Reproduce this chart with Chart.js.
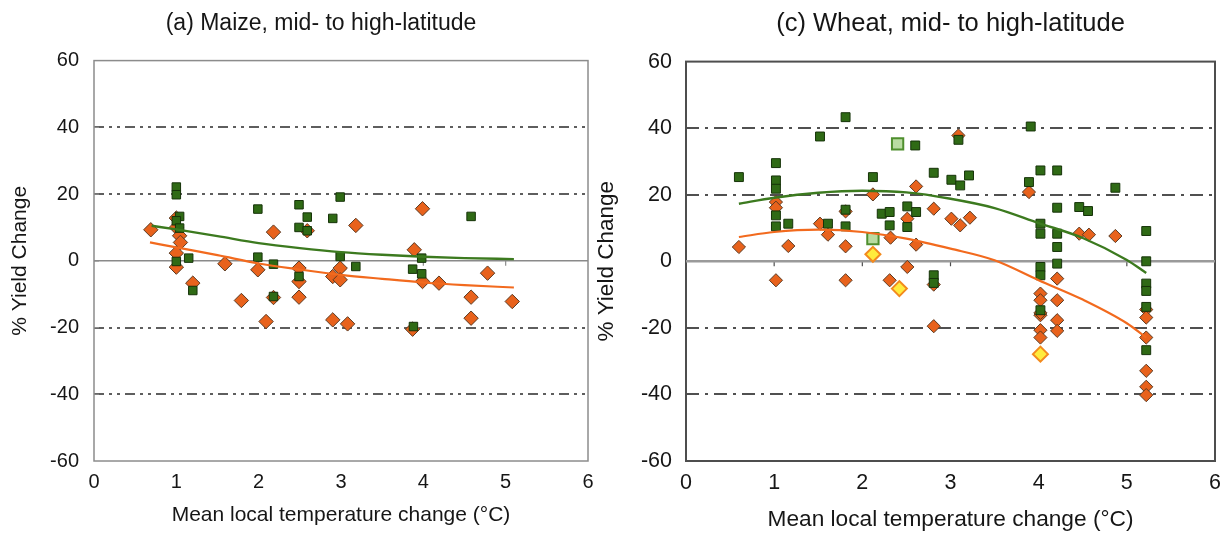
<!DOCTYPE html>
<html><head><meta charset="utf-8">
<script src="https://cdn.jsdelivr.net/npm/chart.js@4"></script>
<style>
html,body{margin:0;padding:0;background:#fff;overflow:hidden;}
#wrap{position:relative;width:1225px;height:533px;background:#fff;}
canvas{position:absolute;top:0;}
#c1{left:0;} #c2{left:590px;}
</style></head><body>
<div id="wrap"><canvas id="c1" width="642" height="533"></canvas><canvas id="c2" width="635" height="533"></canvas></div>
<script>
// ---------- tick labels ----------
const xTickValues = [0, 1, 2, 3, 4, 5, 6];
const yTickValues = [-60, -40, -20, 0, 20, 40, 60];
const xAxisTitle = 'Mean local temperature change (°C)';
const yAxisTitle = '% Yield Change';
const titleMaize = '(a) Maize, mid- to high-latitude';
const titleWheat = '(c) Wheat, mid- to high-latitude';

// ---------- (a) Maize ----------
const maizeAdaptX = [1.0, 1.0, 1.04, 1.0, 1.04, 1.0, 1.15, 1.2, 1.99, 1.99, 2.18, 2.18, 2.49, 2.49, 2.59, 2.59, 2.49, 2.9, 2.99, 2.99, 3.18, 3.87, 3.98, 3.98, 3.88, 4.58];
const maizeAdaptY = [22.1, 19.8, 13.3, 12.0, 9.8, -0.2, 0.8, -8.9, 15.5, 1.1, -1.0, -10.7, 16.8, 10.0, 13.1, 9.0, -4.7, 12.7, 19.1, 1.3, -1.7, -2.5, 0.8, -3.9, -19.7, 13.3];
const maizeNoAdaptX = [0.69, 1.0, 1.0, 1.04, 1.05, 1.0, 1.0, 1.2, 1.59, 1.79, 1.99, 2.18, 2.09, 2.18, 2.49, 2.49, 2.49, 2.59, 2.9, 2.99, 2.99, 2.9, 3.08, 3.18, 3.99, 3.89, 3.99, 4.19, 3.87, 4.78, 4.58, 4.58, 5.08];
const maizeNoAdaptY = [9.3, 12.8, 10.0, 7.5, 5.5, 2.3, -1.9, -6.7, -0.9, -11.9, -2.7, 8.6, -18.2, -11.0, -2.2, -6.2, -10.9, 9.0, -4.7, -2.2, -5.7, -17.7, -18.9, 10.6, 15.6, 3.3, -6.2, -6.7, -20.5, -3.7, -10.9, -17.2, -12.2];
const maizeFitAdaptX = [0.7, 1, 1.5, 2, 2.5, 3, 3.5, 4, 4.5, 5.1];
const maizeFitAdaptY = [10.5, 9.4, 7.4, 5.3, 3.8, 2.6, 1.8, 1.2, 0.8, 0.5];
const maizeFitNoAdaptX = [0.68, 1, 1.5, 2, 2.5, 3, 3.5, 4, 4.5, 5.1];
const maizeFitNoAdaptY = [5.5, 4.0, 1.7, -0.8, -2.6, -4.2, -5.4, -6.5, -7.3, -8.0];

// ---------- (c) Wheat ----------
const wheatAdaptX = [0.6, 1.02, 1.02, 1.02, 1.02, 1.02, 1.16, 1.52, 1.61, 1.81, 1.81, 1.81, 2.12, 2.22, 2.31, 2.31, 2.51, 2.51, 2.61, 2.6, 2.81, 2.81, 2.81, 3.01, 3.09, 3.11, 3.21, 3.91, 3.89, 4.02, 4.02, 4.02, 4.02, 4.02, 4.02, 4.21, 4.21, 4.21, 4.21, 4.21, 4.46, 4.56, 4.87, 5.22, 5.22, 5.22, 5.22, 5.22, 5.22];
const wheatAdaptY = [25.3, 29.5, 24.3, 21.8, 13.8, 10.5, 11.3, 37.5, 11.3, 43.3, 15.5, 10.5, 25.3, 14.3, 14.8, 10.8, 16.5, 10.3, 14.8, 34.8, 26.6, -4.2, -6.5, 24.5, 36.5, 22.8, 25.8, 40.5, 23.8, 27.3, 11.3, 8.3, -1.7, -4.2, -14.7, 27.3, 16.1, 8.3, 4.3, -0.7, 16.3, 15.1, 22.1, 9.1, 0.0, -6.7, -8.9, -13.7, -26.7];
const wheatNoAdaptX = [0.6, 1.02, 1.02, 1.02, 1.16, 1.52, 1.61, 1.81, 1.81, 1.81, 2.12, 2.32, 2.51, 2.61, 2.61, 2.51, 2.31, 2.81, 2.81, 2.81, 3.01, 3.11, 3.22, 3.09, 3.89, 4.02, 4.02, 4.02, 4.02, 4.02, 4.02, 4.21, 4.21, 4.21, 4.21, 4.46, 4.57, 4.87, 5.22, 5.22, 5.22, 5.22, 5.22, 5.22];
const wheatNoAdaptY = [4.3, 17.8, 16.1, -5.7, 4.6, 11.3, 8.0, 4.5, -5.7, 15.0, 20.1, 7.1, 12.8, 22.5, 5.0, -1.7, -5.7, 15.8, -19.5, -7.0, 12.8, 10.8, 13.1, 37.8, 20.8, -9.7, -11.7, -16.2, -20.7, -22.9, -15.5, -5.2, -11.7, -17.7, -20.9, 8.3, 8.0, 7.6, -14.5, -16.9, -22.9, -32.9, -37.7, -40.2];
const wheatAdaptSpecialX = [2.4, 2.12];
const wheatAdaptSpecialY = [35.3, 6.8];
const wheatNoAdaptSpecialX = [2.12, 2.42, 4.02];
const wheatNoAdaptSpecialY = [2.1, -8.2, -27.9];
const wheatFitAdaptX = [0.6, 1, 1.5, 2, 2.5, 3, 3.5, 4, 4.5, 5, 5.22];
const wheatFitAdaptY = [17.3, 19.1, 20.6, 21.2, 20.7, 18.8, 16.0, 11.5, 7.0, 0.4, -3.5];
const wheatFitNoAdaptX = [0.6, 1, 1.5, 2, 2.5, 3, 3.5, 4, 4.5, 5, 5.22];
const wheatFitNoAdaptY = [7.3, 8.8, 9.5, 8.8, 6.8, 3.8, 0.3, -5.7, -11.5, -18.6, -22.9];

const zeroLineX = [0, 6];
const zeroLineY = [0, 0];

// ---------- helpers ----------
const FONT = "'Liberation Sans', Arial, Helvetica, sans-serif";
const TXT = '#161616';
const pts = (xs, ys) => xs.map((x, i) => ({x: x, y: ys[i]}));

const framePlugin = {
  id: 'frame',
  beforeDatasetsDraw(chart, args, o) {
    const {ctx, chartArea: a, scales} = chart;
    ctx.save();
    ctx.strokeStyle = o.color;
    ctx.lineWidth = o.width;
    ctx.strokeRect(a.left, a.top, a.right - a.left, a.bottom - a.top);
    ctx.lineWidth = 1.2;
    ctx.beginPath();
    yTickValues.forEach(v => {
      if (v === -60 || v === 60) return;
      const y = scales.y.getPixelForValue(v);
      ctx.moveTo(a.left, y); ctx.lineTo(a.left + 5, y);
    });
    const y0 = scales.y.getPixelForValue(0);
    xTickValues.forEach(v => {
      if (v === 0 || v === 6) return;
      const x = scales.x.getPixelForValue(v);
      ctx.moveTo(x, y0); ctx.lineTo(x, y0 + 5);
    });
    ctx.stroke();
    ctx.restore();
  }
};

function makeChart(id, p) {
  const datasets = [
    {label: 'zero', data: pts(zeroLineX, zeroLineY), showLine: true, pointRadius: 0, borderColor: p.zeroColor, borderWidth: p.zeroWidth, order: 20},
    {label: 'no adaptation', data: pts(p.noX, p.noY), pointStyle: 'rectRot', pointRadius: p.diaR, backgroundColor: '#e8621c', borderColor: '#5a3a22', borderWidth: 1, order: 9},
    {label: 'adaptation', data: pts(p.adX, p.adY), pointStyle: 'rect', pointRadius: p.sqR, backgroundColor: '#2f6a15', borderColor: '#163309', borderWidth: 1, order: 8},
    {label: 'fit no adaptation', data: pts(p.fitNoX, p.fitNoY), showLine: true, pointRadius: 0, borderColor: '#f26a1e', borderWidth: 2.2, cubicInterpolationMode: 'monotone', order: 3},
    {label: 'fit adaptation', data: pts(p.fitAdX, p.fitAdY), showLine: true, pointRadius: 0, borderColor: '#3c7a1f', borderWidth: 2.4, cubicInterpolationMode: 'monotone', order: 2}
  ];
  if (p.spAdX) datasets.push({label: 'adaptation (other)', data: pts(p.spAdX, p.spAdY), pointStyle: 'rect', pointRadius: 8, backgroundColor: '#b9dca2', borderColor: '#4f8f2e', borderWidth: 2, order: 6});
  if (p.spNoX) datasets.push({label: 'no adaptation (other)', data: pts(p.spNoX, p.spNoY), pointStyle: 'rectRot', pointRadius: 7.5, backgroundColor: '#ffec3d', borderColor: '#f38a1e', borderWidth: 2, order: 5});

  const scales = {
    x: {
      type: 'linear', min: 0, max: 6,
      afterBuildTicks: s => { s.ticks = xTickValues.map(v => ({value: v})); },
      grid: {display: false, drawTicks: false}, border: {display: false},
      ticks: {color: TXT, font: {family: FONT, size: p.tickSize}, padding: p.xTickPad, maxRotation: 0, autoSkip: false},
      title: {display: true, text: xAxisTitle, color: TXT, font: {family: FONT, size: p.xTitleSize}, padding: {top: 0, bottom: p.xTitlePad}},
      afterFit: s => { s.height = 72; s.paddingLeft = 0; s.paddingRight = 0; }
    },
    y: {
      type: 'linear', min: -60, max: 60,
      afterBuildTicks: s => { s.ticks = yTickValues.map(v => ({value: v})); },
      grid: {drawTicks: false, lineWidth: 2, color: c => (c.tick && [20, 40, -20, -40].includes(c.tick.value)) ? p.gridColor : 'rgba(0,0,0,0)'},
      border: {display: false, dash: p.dash},
      ticks: {color: TXT, font: {family: FONT, size: p.tickSize}, padding: p.yTickPad},
      title: {display: true, text: yAxisTitle, color: TXT, font: {family: FONT, size: p.yTitleSize}, padding: {top: p.yTitlePad, bottom: 0}},
      afterFit: s => { s.width = p.yWidth; s.paddingTop = 0; s.paddingBottom = 0; }
    }
  };
  if (p.rightGap) {
    scales.yR = {type: 'linear', position: 'right', display: true, grid: {display: false, drawTicks: false}, border: {display: false}, ticks: {display: false},
      afterFit: s => { s.width = p.rightGap; }};
  }
  return new Chart(document.getElementById(id), {
    type: 'scatter',
    data: {datasets: datasets},
    options: {
      responsive: false, animation: false, devicePixelRatio: 1,
      layout: {padding: {left: 0, right: p.padRight, top: 0, bottom: 0}},
      scales: scales,
      plugins: {
        legend: {display: false}, tooltip: {enabled: false},
        title: {display: true, text: p.title, color: TXT, fullSize: p.titleFull, font: {family: FONT, size: p.titleSize, weight: 'normal'}, padding: {top: p.titlePadTop, bottom: p.titlePadBottom}},
        frame: {color: p.frameColor, width: p.frameWidth}
      }
    },
    plugins: [framePlugin]
  });
}

makeChart('c1', {
  title: titleMaize, titleFull: true, titleSize: 23, titlePadTop: 10, titlePadBottom: 23,
  adX: maizeAdaptX, adY: maizeAdaptY, noX: maizeNoAdaptX, noY: maizeNoAdaptY,
  fitAdX: maizeFitAdaptX, fitAdY: maizeFitAdaptY, fitNoX: maizeFitNoAdaptX, fitNoY: maizeFitNoAdaptY,
  diaR: 7.2, sqR: 6.0, tickSize: 20, xTitleSize: 21, yTitleSize: 21,
  xTickPad: 9, xTitlePad: 5, yTickPad: 15, yTitlePad: 8, yWidth: 94, rightGap: 54, padRight: 0,
  dash: [10, 5, 3, 5, 3, 5], gridColor: '#5e5e5e', zeroColor: '#8a8a8a', zeroWidth: 1.5,
  frameColor: '#8c8c8c', frameWidth: 1.5
});

makeChart('c2', {
  title: titleWheat, titleFull: false, titleSize: 25.5, titlePadTop: 9, titlePadBottom: 22,
  adX: wheatAdaptX, adY: wheatAdaptY, noX: wheatNoAdaptX, noY: wheatNoAdaptY,
  spAdX: wheatAdaptSpecialX, spAdY: wheatAdaptSpecialY, spNoX: wheatNoAdaptSpecialX, spNoY: wheatNoAdaptSpecialY,
  fitAdX: wheatFitAdaptX, fitAdY: wheatFitAdaptY, fitNoX: wheatFitNoAdaptX, fitNoY: wheatFitNoAdaptY,
  diaR: 6.6, sqR: 6.3, tickSize: 21.5, xTitleSize: 22.7, yTitleSize: 22.5,
  xTickPad: 9, xTitlePad: 0, yTickPad: 14, yTitlePad: 3, yWidth: 96, rightGap: 0, padRight: 3,
  dash: [13, 6, 3, 6], gridColor: '#505050', zeroColor: '#9a9a9a', zeroWidth: 2.5,
  frameColor: '#4e4e4e', frameWidth: 2
});
</script>
</body></html>
